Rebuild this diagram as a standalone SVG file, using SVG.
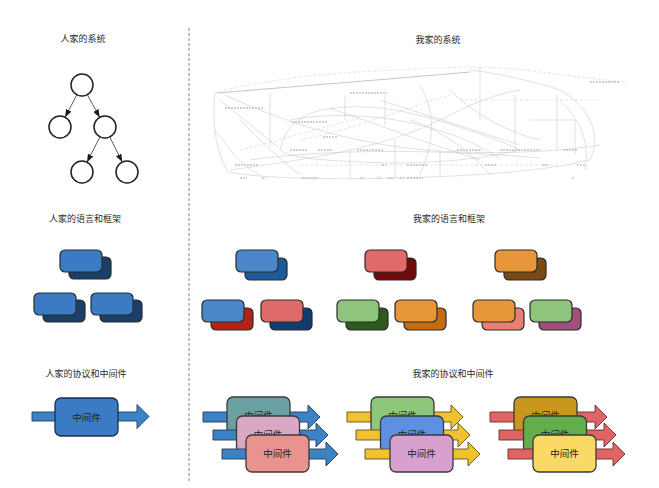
<svg xmlns="http://www.w3.org/2000/svg" width="659" height="488" viewBox="0 0 659 488">
<defs>
<marker id="tri" viewBox="0 0 8 6" refX="8" refY="3" markerWidth="8" markerHeight="6" markerUnits="userSpaceOnUse" orient="auto">
<path d="M0,0 L8,3 L0,6 z" fill="#1a1a1a"/>
</marker>
<style>
.t{font-family:"Noto Sans CJK SC","Noto Sans",sans-serif;font-size:9px;fill:#2a2a2a;text-anchor:middle}
.bt{font-family:"Noto Sans CJK SC","Noto Sans",sans-serif;font-size:9.5px;fill:#222;text-anchor:middle}
.c{fill:#fff;stroke:#222;stroke-width:1.5}
.e{stroke:#333;stroke-width:0.8;fill:none;marker-end:url(#tri)}
.r{stroke:#2a2a2a;stroke-width:1.2}
.box{stroke:#3a3a3a;stroke-width:1.3}
.ab{fill:#3e82c6;stroke:#1f3a5f;stroke-width:0.9}
.ay{fill:#f2c12e;stroke:#5e5120;stroke-width:0.9}
.ar{fill:#e06464;stroke:#6b2b2b;stroke-width:0.9}
.g{fill:none;stroke:#cbcbcb;stroke-width:0.6}
.gd{fill:none;stroke:#d0d0d0;stroke-width:0.6;stroke-dasharray:3 2}
.m{fill:none;stroke:#c2c2c2;stroke-width:1.3;stroke-dasharray:2 1}
</style>
</defs>
<rect width="659" height="488" fill="#fff"/>

<line x1="189" y1="28" x2="189" y2="482" stroke="#9a9a9a" stroke-width="1.2" stroke-dasharray="3 2"/>

<!-- titles -->
<text class="t" x="83" y="42">人家的系统</text>
<text class="t" x="438" y="43">我家的系统</text>
<text class="t" x="85" y="222">人家的语言和框架</text>
<text class="t" x="449" y="221.5">我家的语言和框架</text>
<text class="t" x="86" y="377">人家的协议和中间件</text>
<text class="t" x="453" y="377">我家的协议和中间件</text>

<!-- tree -->
<g id="connectors">
<line class="e" x1="76.9" y1="94.7" x2="65.1" y2="117.3"/>
<line class="e" x1="87.3" y1="94.6" x2="99.7" y2="117.4"/>
<line class="e" x1="100" y1="136.8" x2="87" y2="162.2"/>
<line class="e" x1="109.8" y1="136.9" x2="122.2" y2="162.1"/>
</g>
<g id="n-root"><circle class="c" cx="82" cy="85" r="11"/></g>
<g id="n-left"><circle class="c" cx="60" cy="127" r="11"/></g>
<g id="n-right"><circle class="c" cx="105" cy="127" r="11"/></g>
<g id="n-rl"><circle class="c" cx="82" cy="172" r="11"/></g>
<g id="n-rr"><circle class="c" cx="127" cy="172" r="11"/></g>

<!-- messy system -->
<g id="messy">
<path class="gd" d="M215,93 C260,80 330,72 400,70 C450,66 500,66 540,72 C570,76 600,80 627,82"/>
<path fill="none" stroke="#b8b8b8" stroke-width="0.8" d="M217,93 C300,86 380,80 470,72"/>
<path class="g" d="M215,93 C212,120 215,150 228,172 C260,178 320,180 400,178 C470,176 540,172 590,160 C600,140 595,110 560,90 C530,80 490,72 470,70"/>
<path class="g" d="M280,150 C285,125 305,110 335,108 C370,104 400,110 430,118 C470,130 500,140 520,150 C480,160 420,165 360,162 C320,160 290,158 280,150 Z"/>
<path class="g" d="M225,95 C300,130 380,150 460,152 C520,154 570,150 600,145"/>
<path class="g" d="M270,93 L270,147"/>
<path class="g" d="M480,67 L480,120"/>
<path class="g" d="M515,95 L515,150"/>
<path class="g" d="M557,95 L557,150"/>
<path class="g" d="M220,100 L278,147"/>
<path class="g" d="M230,170 C300,160 380,150 440,120 C470,105 490,95 520,90"/>
<path class="gd" d="M300,140 C350,130 400,110 450,95"/>
<path class="g" d="M330,108 L420,140 L480,160"/>
<path class="g" d="M410,120 C440,130 470,150 490,175"/>
<path class="g" d="M350,150 L350,178 M440,150 L440,178 M395,140 L395,178"/>
<path class="g" d="M450,90 C470,110 500,130 540,140"/>
<path class="gd" d="M240,150 C280,140 320,128 360,118"/>
<path class="g" d="M240,120 C260,140 280,160 300,175"/>
<path class="g" d="M380,100 L520,145"/>
<path class="gd" d="M300,165 L560,165"/>
<path class="g" d="M420,85 C440,120 430,150 420,175"/>
<path class="g" d="M560,100 C580,120 590,140 585,170"/>
<path class="g" d="M215,130 C230,150 240,165 260,175"/>
<path class="g" d="M290,120 C330,112 380,115 420,125 C460,135 490,150 500,160"/>
<path class="g" d="M345,95 L345,120 M385,95 L385,125"/>
<path class="gd" d="M460,100 L600,100"/>
<path class="g" d="M530,120 L575,120 L575,155"/>
<path class="g" d="M250,160 C320,150 420,148 540,158"/>
<path class="m" d="M290,150 L307,150 M318,150 L333,150 M357,150 L383,150 M457,150 L482,150 M500,150 L540,150 M563,150 L577,150"/>
<path class="m" d="M235,165 L258,165 M382,165 L386,165 M407,165 L427,165 M485,165 L497,165 M543,165 L548,165 M577,165 L585,165"/>
<path class="m" d="M240,178 L247,178 M262,178 L266,178 M302,178 L318,178 M360,178 L364,178 M377,178 L381,178 M388,178 L393,178 M400,178 L404,178 M407,178 L423,178 M572,178 L575,178"/>
<path class="m" d="M225,108 L263,108 M292,122 L328,122 M350,93 L387,93 M323,137 L337,137 M590,82 L620,82"/>
</g>

<!-- left frameworks -->
<g id="fw-l1"><rect class="r" x="69" y="257" width="42" height="22" rx="5" fill="#1b3f6b"/><rect class="r" x="60" y="250" width="42" height="22" rx="5" fill="#3b7bc4"/></g>
<g id="fw-l2"><rect class="r" x="43" y="300" width="42" height="22" rx="5" fill="#1b3f6b"/><rect class="r" x="34" y="293" width="42" height="22" rx="5" fill="#3b7bc4"/></g>
<g id="fw-l3"><rect class="r" x="100" y="300" width="42" height="22" rx="5" fill="#1b3f6b"/><rect class="r" x="91" y="293" width="42" height="22" rx="5" fill="#3b7bc4"/></g>

<!-- right frameworks -->
<g id="fw-r1"><rect class="r" x="245" y="258" width="42" height="22" rx="5" fill="#1d5a9a"/><rect class="r" x="236" y="250" width="42" height="22" rx="5" fill="#4a86c8"/></g>
<g id="fw-r2"><rect class="r" x="211" y="308" width="42" height="22" rx="5" fill="#b02418"/><rect class="r" x="202" y="300" width="42" height="22" rx="5" fill="#4a86c8"/></g>
<g id="fw-r3"><rect class="r" x="270" y="308" width="42" height="22" rx="5" fill="#0f3e6e"/><rect class="r" x="261" y="300" width="42" height="22" rx="5" fill="#e06a6a"/></g>
<g id="fw-r4"><rect class="r" x="374" y="258" width="42" height="22" rx="5" fill="#6e0a0a"/><rect class="r" x="365" y="250" width="42" height="22" rx="5" fill="#e06a6a"/></g>
<g id="fw-r5"><rect class="r" x="346" y="308" width="42" height="22" rx="5" fill="#2e5a1e"/><rect class="r" x="337" y="300" width="42" height="22" rx="5" fill="#8fc47d"/></g>
<g id="fw-r6"><rect class="r" x="404" y="308" width="42" height="22" rx="5" fill="#c46b14"/><rect class="r" x="395" y="300" width="42" height="22" rx="5" fill="#e8963a"/></g>
<g id="fw-r7"><rect class="r" x="504" y="258" width="42" height="22" rx="5" fill="#7a4a12"/><rect class="r" x="495" y="250" width="42" height="22" rx="5" fill="#e8963a"/></g>
<g id="fw-r8"><rect class="r" x="482" y="308" width="42" height="22" rx="5" fill="#e88070"/><rect class="r" x="473" y="300" width="42" height="22" rx="5" fill="#e8963a"/></g>
<g id="fw-r9"><rect class="r" x="539" y="308" width="42" height="22" rx="5" fill="#a0507a"/><rect class="r" x="530" y="300" width="42" height="22" rx="5" fill="#8fc47d"/></g>

<!-- left middleware -->
<g id="mw-l">
<path class="ab" d="M32,412 L137,412 L137,404.5 L149,416.5 L137,428.5 L137,421 L32,421 Z"/>
<rect x="55" y="398" width="63" height="38" rx="6" fill="#3b7bc4" stroke="#1c2f4a" stroke-width="1.3"/>
<text class="bt" x="86.5" y="420.5">中间件</text>
</g>

<!-- right middleware group 1 -->
<g id="mw-r1">
<path class="ab" d="M203,412 L308,412 L308,405 L320,417 L308,429 L308,422 L203,422 Z"/>
<rect class="box" x="227" y="397" width="63" height="37" rx="6" fill="#6a9fa3"/>
<text class="bt" x="258.5" y="419">中间件</text>
<path class="ab" d="M213,430 L316,430 L316,423 L328,435 L316,447 L316,440 L213,440 Z"/>
<rect class="box" x="236.5" y="416" width="63" height="37" rx="6" fill="#d8a8c4"/>
<text class="bt" x="268" y="438">中间件</text>
<path class="ab" d="M222,449 L326,449 L326,442 L338,454 L326,466 L326,459 L222,459 Z"/>
<rect class="box" x="246" y="435" width="63" height="37" rx="6" fill="#e8938e"/>
<text class="bt" x="277.5" y="457">中间件</text>
</g>

<!-- right middleware group 2 -->
<g id="mw-r2">
<path class="ay" d="M347,412 L451,412 L451,405 L463,417 L451,429 L451,422 L347,422 Z"/>
<rect class="box" x="371" y="397" width="63" height="37" rx="6" fill="#8ec67a"/>
<text class="bt" x="402.5" y="419">中间件</text>
<path class="ay" d="M356,430 L458,430 L458,423 L470,435 L458,447 L458,440 L356,440 Z"/>
<rect class="box" x="380.5" y="416" width="63" height="37" rx="6" fill="#5d8fe2"/>
<text class="bt" x="412" y="438">中间件</text>
<path class="ay" d="M365,449 L468,449 L468,442 L480,454 L468,466 L468,459 L365,459 Z"/>
<rect class="box" x="390" y="435" width="63" height="37" rx="6" fill="#d8a0cc"/>
<text class="bt" x="421.5" y="457">中间件</text>
</g>

<!-- right middleware group 3 -->
<g id="mw-r3">
<path class="ar" d="M490,412 L595,412 L595,405 L607,417 L595,429 L595,422 L490,422 Z"/>
<rect class="box" x="514" y="397" width="63" height="37" rx="6" fill="#c9971d"/>
<text class="bt" x="545.5" y="419">中间件</text>
<path class="ar" d="M499,430 L604,430 L604,423 L616,435 L604,447 L604,440 L499,440 Z"/>
<rect class="box" x="523.5" y="416" width="63" height="37" rx="6" fill="#64ad4c"/>
<text class="bt" x="555" y="438">中间件</text>
<path class="ar" d="M508,449 L613,449 L613,442 L625,454 L613,466 L613,459 L508,459 Z"/>
<rect class="box" x="533" y="435" width="63" height="37" rx="6" fill="#fbd966"/>
<text class="bt" x="564.5" y="457">中间件</text>
</g>
</svg>
